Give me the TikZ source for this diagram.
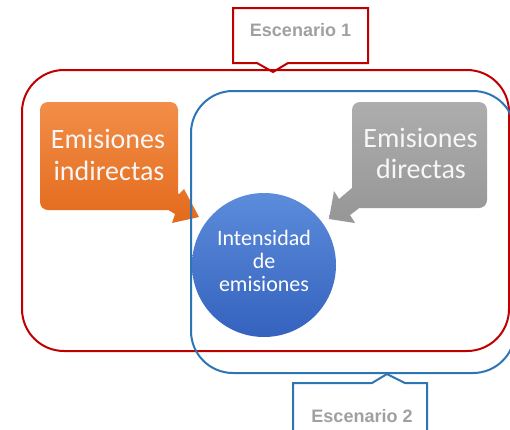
\documentclass[tikz,border=0pt]{standalone}
\usepackage{fontspec}
\setmainfont{Carlito}
\newfontfamily\labelfont{Liberation Sans}
\definecolor{redline}{HTML}{C00000}
\definecolor{blueline}{HTML}{2E75B6}
\definecolor{orangetop}{HTML}{F28E48}
\definecolor{orangebot}{HTML}{E36A1C}
\definecolor{graytop}{HTML}{ADADAD}
\definecolor{graybot}{HTML}{969696}
\definecolor{circtop}{HTML}{5C8CDB}
\definecolor{circbot}{HTML}{3462BE}
\definecolor{labelgray}{HTML}{A0A0A0}
\definecolor{whitetext}{HTML}{F7F7F7}
\tikzset{
  scenario/.style={line width=2pt, line join=miter},
  callout/.style={line width=2pt, fill=white},
  calloutlabel/.style={anchor=base, inner sep=0pt, text=labelgray, font=\labelfont\bfseries\fontsize{18}{20}\selectfont},
  bigtext/.style={anchor=base, inner sep=0pt, text=whitetext, font=\fontsize{28}{32}\selectfont},
  circtext/.style={anchor=base, inner sep=0pt, text=white, font=\fontsize{22}{24}\selectfont},
}
\begin{document}
\begin{tikzpicture}[x=1pt,y=-1pt]
\useasboundingbox (0,0) rectangle (510,429);
\clip (0,0) rectangle (510,429);
\fill[white] (0,0) rectangle (510,429);

% orange callout with arrow
\path[top color=orangetop, bottom color=orangebot, rounded corners=8]
  (40,102) -- (178,102) -- (178,210) -- (40,210) -- cycle
  [sharp corners] (165,186) -- (179,194) -- (184,189) -- (199,217) -- (172,223) -- (175,214) -- (160,205) -- cycle;
\node[bigtext] (ind1) at (108,148) {Emisiones};
\node[bigtext] (ind2) at (109,180) {indirectas};

% gray callout with arrow
\path[top color=graytop, bottom color=graybot, rounded corners=8]
  (352,102) -- (487,102) -- (487,208) -- (352,208) -- cycle
  [sharp corners] (339,199) -- (352,188) -- (365,195) -- (362,206) -- (350,215) -- (355,223) -- (329,219) -- (334,191) -- cycle;
\node[bigtext] (dir1) at (420.5,147) {Emisiones};
\node[bigtext] (dir2) at (421,178) {directas};

% central circle
\node[circle, minimum size=144pt, inner sep=0pt, top color=circtop, bottom color=circbot] (intensity) at (264,265) {};
\node[circtext] (c1) at (264,245) {Intensidad};
\node[circtext] (c2) at (264,268) {de};
\node[circtext] (c3) at (264,291) {emisiones};

% callouts
\draw[callout, draw=redline] (233,8) -- (368,8) -- (368,63) -- (288,63) -- (273,72) -- (257,63) -- (233,63) -- cycle;
\node[calloutlabel] (esc1) at (300.5,36) {Escenario 1};
\draw[callout, draw=blueline] (293,440) -- (293,383) -- (372,383) -- (387,374) -- (405,383) -- (427,383) -- (427,440);
\node[calloutlabel] (esc2) at (362,422) {Escenario 2};

% scenario frames
\draw[scenario, draw=redline, rounded corners=42] (22,70) rectangle (509,351);
\draw[scenario, draw=blueline, rounded corners=42] (191,91) rectangle (515,373);
\end{tikzpicture}
\end{document}
